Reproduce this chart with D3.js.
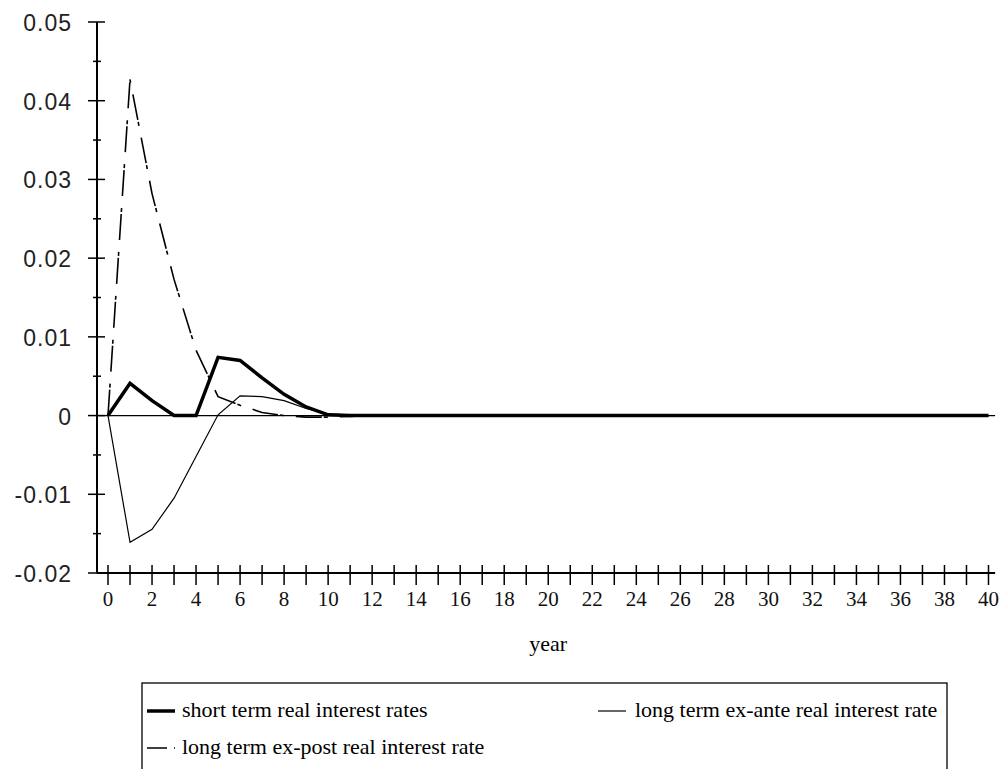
<!DOCTYPE html>
<html>
<head>
<meta charset="utf-8">
<script src="https://cdn.jsdelivr.net/npm/d3@7"></script>
<style>
  body { margin: 0; background: #fff; }
  svg { display: block; }
</style>
</head>
<body>
<div id="chart"></div>
<script>
// years 0..40
const years = [0,1,2,3,4,5,6,7,8,9,10,11,12,13,14,15,16,17,18,19,20,
  21,22,23,24,25,26,27,28,29,30,31,32,33,34,35,36,37,38,39,40];

const shortTerm = [0, 0.0041, 0.0019, 0, 0, 0.0074, 0.0070, 0.0048, 0.0027, 0.0011, 0.0001,
  0, 0, 0, 0, 0, 0, 0, 0, 0, 0,
  0, 0, 0, 0, 0, 0, 0, 0, 0, 0,
  0, 0, 0, 0, 0, 0, 0, 0, 0, 0];

const exAnte = [0, -0.0161, -0.01445, -0.0105, -0.0052, 0.0001, 0.0025, 0.0024, 0.0019, 0.0009, 0.0002,
  0.0001, 0, 0, 0, 0, 0, 0, 0, 0, 0,
  0, 0, 0, 0, 0, 0, 0, 0, 0, 0,
  0, 0, 0, 0, 0, 0, 0, 0, 0, 0];

const exPost = [0, 0.0427, 0.0282, 0.0173, 0.0083, 0.0024, 0.0013, 0.0004, 0, -0.0002, -0.0002,
  -0.0001, 0, 0, 0, 0, 0, 0, 0, 0, 0,
  0, 0, 0, 0, 0, 0, 0, 0, 0, 0,
  0, 0, 0, 0, 0, 0, 0, 0, 0, 0];

const yMajor = [-0.02, -0.01, 0, 0.01, 0.02, 0.03, 0.04, 0.05];
const yMinor = [-0.015, -0.005, 0.005, 0.015, 0.025, 0.035, 0.045];
const yLabels = ['-0.02', '-0.01', '0', '0.01', '0.02', '0.03', '0.04', '0.05'];
const xLabels = [0,2,4,6,8,10,12,14,16,18,20,22,24,26,28,30,32,34,36,38,40];

const legendItems = [
  {name: 'short term real interest rates', key: 'short'},
  {name: 'long term ex-ante real interest rate', key: 'ante'},
  {name: 'long term ex-post real interest rate', key: 'post'}
];

const W = 1005, H = 769;
const margin = {top: 22, right: 16, bottom: 196, left: 108};
const width = W - margin.left - margin.right;
const height = H - margin.top - margin.bottom;

const svg = d3.select('#chart')
    .append('svg')
    .attr('width', W)
    .attr('height', H);

const g = svg.append('g')
    .attr('transform', `translate(${margin.left},${margin.top})`);

const x = d3.scaleLinear()
    .domain([0, 40])
    .range([0, 880.5]);

const y = d3.scaleLinear()
    .domain([-0.02, 0.05])
    .range([height, 0]);

const axisX = x(-0.5);
const rightX = x(40.3);

// y axis line + ticks
g.append('line')
    .attr('x1', axisX).attr('x2', axisX)
    .attr('y1', y(0.05)).attr('y2', y(-0.02))
    .attr('stroke', '#000').attr('stroke-width', 2);

g.selectAll('.ymaj')
    .data(yMajor)
    .enter().append('line')
    .attr('x1', axisX - 9).attr('x2', axisX + 8)
    .attr('y1', d => y(d)).attr('y2', d => y(d))
    .attr('stroke', '#000').attr('stroke-width', 1.5);

g.selectAll('.ymin')
    .data(yMinor)
    .enter().append('line')
    .attr('x1', axisX - 4).attr('x2', axisX + 4)
    .attr('y1', d => y(d)).attr('y2', d => y(d))
    .attr('stroke', '#000').attr('stroke-width', 1.5);

g.selectAll('.ylab')
    .data(yMajor)
    .enter().append('text')
    .attr('x', axisX - 25)
    .attr('y', d => y(d) + 9)
    .attr('text-anchor', 'end')
    .style('font-family', '"Liberation Sans", Arial, sans-serif')
    .style('font-size', '23px')
    .style('letter-spacing', '1px')
    .attr('fill', '#222')
    .text((d, i) => yLabels[i]);

// x axis line + ticks
g.append('line')
    .attr('x1', axisX).attr('x2', rightX)
    .attr('y1', height).attr('y2', height)
    .attr('stroke', '#000').attr('stroke-width', 2);

g.selectAll('.xtick')
    .data(years)
    .enter().append('line')
    .attr('x1', d => x(d)).attr('x2', d => x(d))
    .attr('y1', height - 8).attr('y2', height + 12)
    .attr('stroke', '#000').attr('stroke-width', 1.5);

g.selectAll('.xlab')
    .data(xLabels)
    .enter().append('text')
    .attr('x', d => x(d))
    .attr('y', height + 33)
    .attr('text-anchor', 'middle')
    .style('font-family', '"Liberation Serif", "Times New Roman", serif')
    .style('font-size', '21px')
    .attr('fill', '#111')
    .text(d => d);

g.append('text')
    .attr('x', x(20))
    .attr('y', height + 78)
    .attr('text-anchor', 'middle')
    .style('font-family', '"Liberation Serif", "Times New Roman", serif')
    .style('font-size', '22px')
    .text('year');

// zero line
g.append('line')
    .attr('x1', axisX).attr('x2', rightX)
    .attr('y1', y(0)).attr('y2', y(0))
    .attr('stroke', '#000').attr('stroke-width', 1.3);

const line = data => d3.line()
    .x((d, i) => x(years[i]))
    .y(d => y(d))(data);

g.append('path')
    .attr('d', line(exAnte))
    .attr('fill', 'none')
    .attr('stroke', '#000')
    .attr('stroke-width', 1.2);

g.append('path')
    .attr('d', line(exPost))
    .attr('fill', 'none')
    .attr('stroke', '#000')
    .attr('stroke-width', 1.6)
    .attr('stroke-dasharray', '26,2,4,12');

g.append('path')
    .attr('d', line(shortTerm))
    .attr('fill', 'none')
    .attr('stroke', '#000')
    .attr('stroke-width', 3.5)
    .attr('stroke-linejoin', 'miter');

// legend
const legend = svg.append('g')
    .attr('transform', 'translate(142,683)');

legend.append('rect')
    .attr('x', 0).attr('y', 0)
    .attr('width', 805).attr('height', 110)
    .attr('fill', 'none')
    .attr('stroke', '#000')
    .attr('stroke-width', 1.3);

const legPos = [
  {lx: 5, ly: 28, tx: 40},
  {lx: 456, ly: 28, tx: 493},
  {lx: 5, ly: 65, tx: 40}
];

const styles = {
  short: {w: 3.5, dash: null},
  ante: {w: 1.2, dash: null},
  post: {w: 1.6, dash: '20,7,4,30'}
};

legendItems.forEach((it, i) => {
  const p = legPos[i];
  const s = styles[it.key];
  legend.append('line')
      .attr('x1', p.lx).attr('x2', p.lx + 28)
      .attr('y1', p.ly).attr('y2', p.ly)
      .attr('stroke', '#000')
      .attr('stroke-width', s.w)
      .attr('stroke-dasharray', s.dash);
  legend.append('text')
      .attr('x', p.tx)
      .attr('y', p.ly + 6)
      .style('font-family', '"Liberation Serif", "Times New Roman", serif')
      .style('font-size', '22px')
      .text(it.name);
});
</script>
</body>
</html>
